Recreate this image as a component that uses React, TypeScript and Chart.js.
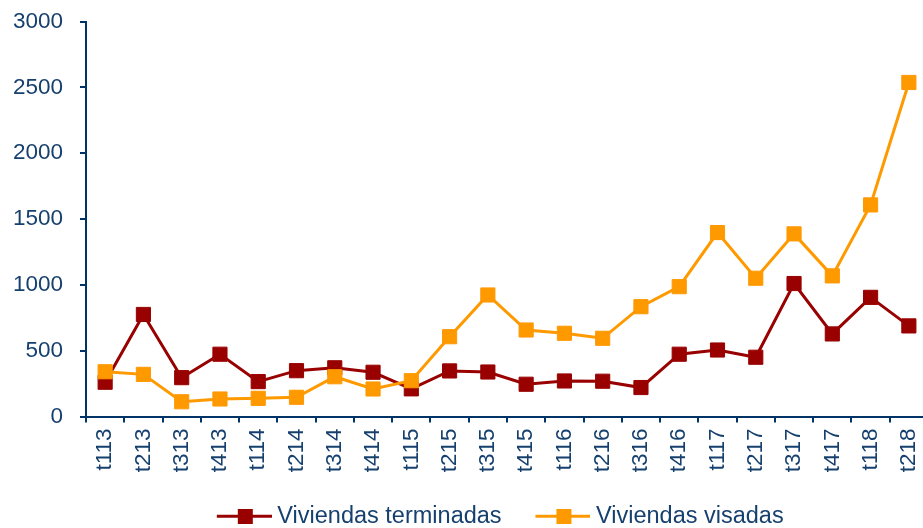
import React, { useEffect, useRef } from 'react';
import { Chart, registerables } from 'chart.js';

Chart.register(...registerables);

const categories = ['t113', 't213', 't313', 't413', 't114', 't214', 't314', 't414', 't115', 't215', 't315', 't415', 't116', 't216', 't316', 't416', 't117', 't217', 't317', 't417', 't118', 't218'];
const terminadas = [260, 775, 295, 473, 265, 348, 370, 336, 210, 346, 338, 245, 270, 268, 220, 473, 505, 450, 1010, 627, 905, 688];
const visadas = [340, 320, 112, 133, 138, 146, 302, 209, 272, 606, 923, 657, 632, 594, 834, 986, 1397, 1050, 1387, 1068, 1607, 2537];
const seriesNames = ['Viviendas terminadas', 'Viviendas visadas'];
const seriesColors = ['#990000', '#FF9900'];
const yMin = 0;
const yMax = 3000;
const yStep = 500;

const FONT = "'Liberation Sans', Arial, Helvetica, sans-serif";
const NAVY = '#003366';
const TEXT = '#16406e';
const LEGEND_BOX = 72.65;
const LEGEND_SHIFT = 24.3;

function makeMarker(color: string): HTMLCanvasElement {
  const c = document.createElement('canvas');
  c.width = 85;
  c.height = 15;
  const g = c.getContext('2d')!;
  g.fillStyle = color;
  g.fillRect(30, 6, 55, 3);
  g.fillRect(51, 0, 15, 15);
  return c;
}

const legendShift = {
  id: 'legendShift',
  afterLayout(chart: any) {
    const lg = chart.legend;
    if (lg) {
      lg.left += LEGEND_SHIFT;
      lg.right += LEGEND_SHIFT;
    }
  },
};

export default function App() {
  const ref = useRef<HTMLCanvasElement | null>(null);

  useEffect(() => {
    document.body.style.overflow = 'hidden';
    const canvas = ref.current;
    if (!canvas) return;
    const markers = seriesColors.map(makeMarker);
    const chart = new Chart(canvas, {
      type: 'line',
      data: {
        labels: categories,
        datasets: [
          {
            label: seriesNames[0],
            data: terminadas,
            borderColor: seriesColors[0],
            backgroundColor: seriesColors[0],
            borderWidth: 3,
            pointStyle: 'rect',
            pointRadius: 10,
            pointBorderWidth: 1,
            pointBackgroundColor: seriesColors[0],
            pointBorderColor: seriesColors[0],
            order: 1,
          },
          {
            label: seriesNames[1],
            data: visadas,
            borderColor: seriesColors[1],
            backgroundColor: seriesColors[1],
            borderWidth: 3,
            pointStyle: 'rect',
            pointRadius: 10,
            pointBorderWidth: 1,
            pointBackgroundColor: seriesColors[1],
            pointBorderColor: seriesColors[1],
            order: 0,
          },
        ],
      },
      plugins: [legendShift],
      options: {
        animation: false,
        responsive: true,
        maintainAspectRatio: false,
        devicePixelRatio: 1,
        layout: { padding: { left: 0, right: 12, top: 21.5, bottom: 0 } },
        plugins: {
          tooltip: { enabled: false },
          title: { display: false },
          legend: {
            display: true,
            position: 'bottom',
            labels: {
              usePointStyle: true,
              pointStyleWidth: LEGEND_BOX,
              padding: 10,
              color: TEXT,
              font: { family: FONT, size: 23.5 },
              generateLabels: () =>
                seriesNames.map((name, i) => ({
                  text: name,
                  fillStyle: seriesColors[i],
                  strokeStyle: seriesColors[i],
                  lineWidth: 0,
                  pointStyle: markers[i],
                  hidden: false,
                  datasetIndex: i,
                  fontColor: TEXT,
                })),
            },
          },
        },
        scales: {
          x: {
            type: 'category',
            offset: true,
            afterFit: (s: any) => {
              s.height = 78;
              s.paddingLeft = 0;
              s.paddingRight = 0;
            },
            grid: {
              offset: true,
              drawOnChartArea: false,
              drawTicks: true,
              tickLength: 6,
              color: NAVY,
              lineWidth: 2,
            },
            border: { display: true, color: NAVY, width: 2 },
            ticks: {
              autoSkip: false,
              maxRotation: 90,
              minRotation: 90,
              padding: 6,
              color: TEXT,
              font: { family: FONT, size: 22.5 },
            },
          },
          y: {
            min: yMin,
            max: yMax,
            afterFit: (s: any) => {
              s.width = 86;
              s.paddingTop = 0;
              s.paddingBottom = 0;
            },
            grid: {
              drawOnChartArea: false,
              drawTicks: true,
              tickLength: 6,
              color: NAVY,
              lineWidth: 2,
            },
            border: { display: true, color: NAVY, width: 2 },
            ticks: {
              stepSize: yStep,
              padding: 17,
              color: TEXT,
              font: { family: FONT, size: 22.5 },
              callback: (v: any) => String(v),
            },
          },
        },
      },
    });
    return () => chart.destroy();
  }, []);

  return (
    <div style={{ position: 'fixed', left: 0, top: 0, width: 940, height: 538, background: '#fff' }}>
      <canvas ref={ref} />
    </div>
  );
}
